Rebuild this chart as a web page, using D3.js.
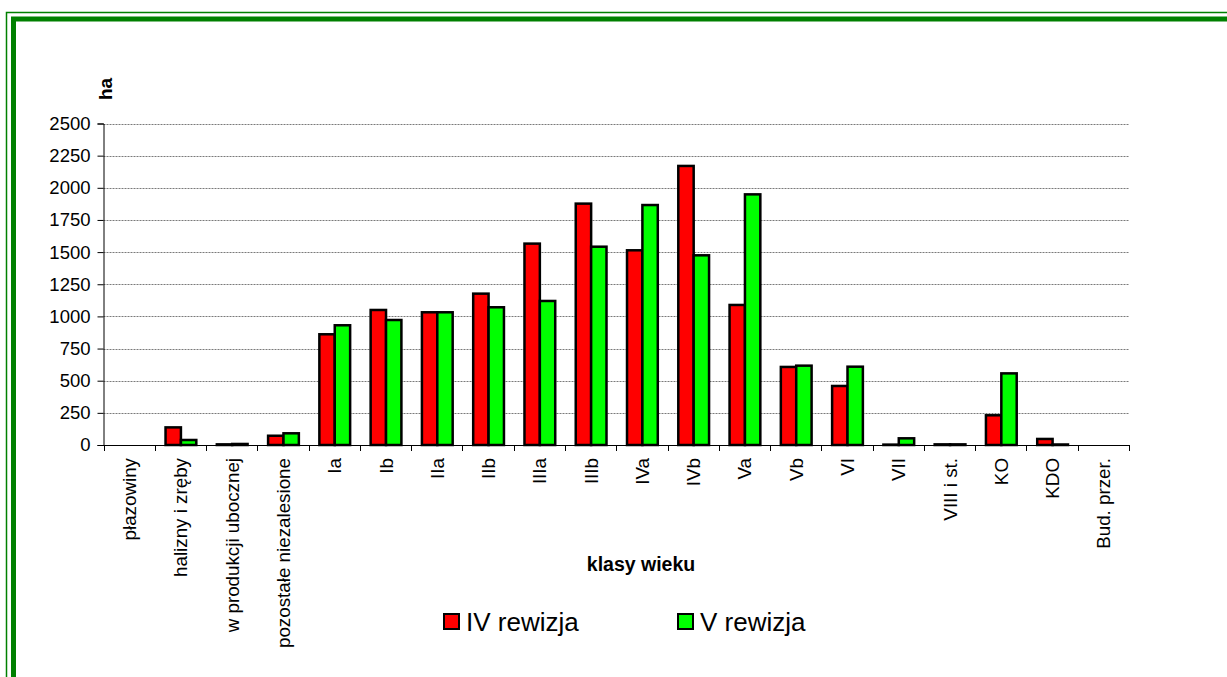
<!DOCTYPE html>
<html>
<head>
<meta charset="utf-8">
<script src="https://cdn.jsdelivr.net/npm/d3@7"></script>
<style>
  body { margin: 0; background: #fff; }
  svg { display: block; font-family: Arial, "Liberation Sans", sans-serif; }
</style>
</head>
<body>
<svg id="chart" width="1227" height="677"></svg>
<script>
// age classes (klasy wieku)
var categories = ['płazowiny', 'halizny i zręby', 'w produkcji ubocznej', 'pozostałe niezalesione',
  'Ia', 'Ib', 'IIa', 'IIb', 'IIIa', 'IIIb', 'IVa', 'IVb', 'Va', 'Vb', 'VI', 'VII',
  'VIII i st.', 'KO', 'KDO', 'Bud. przer.'];

var seriesNames = ['IV rewizja', 'V rewizja'];

var rev4 = [0, 137, 5, 72, 861, 1050, 1032, 1177, 1566, 1877, 1514, 2170, 1089, 607, 459, 3, 5, 231, 47, 0];
var rev5 = [0, 39, 8, 91, 931, 972, 1032, 1071, 1120, 1542, 1866, 1475, 1949, 617, 609, 52, 5, 557, 4, 0];

var yTicks = [0, 250, 500, 750, 1000, 1250, 1500, 1750, 2000, 2250, 2500];

var colors = ['#ff0000', '#00ff00'];

var svg = d3.select('#chart');

// double green frame
svg.append('rect')
    .attr('x', 6.5).attr('y', 12.5)
    .attr('width', 1300).attr('height', 800)
    .attr('fill', 'none').attr('stroke', '#008000').attr('stroke-width', 1.5);
svg.append('rect')
    .attr('x', 13.5).attr('y', 19)
    .attr('width', 1300).attr('height', 800)
    .attr('fill', 'none').attr('stroke', '#008000').attr('stroke-width', 5);

var plotLeft = 103.5, plotRight = 1129, plotTop = 123.5, plotBottom = 445;

var x0 = d3.scaleBand()
    .domain(categories)
    .range([plotLeft, plotRight])
    .padding(0);

var x1 = d3.scaleBand()
    .domain(seriesNames)
    .range([x0.bandwidth() * 0.21, x0.bandwidth() * 0.81]);

var y = d3.scaleLinear()
    .domain([0, 2500])
    .range([plotBottom, plotTop]);

// gridlines
svg.append('g')
    .selectAll('line')
    .data(yTicks.slice(1))
    .join('line')
    .attr('x1', plotLeft).attr('x2', plotRight)
    .attr('y1', function(d) { return Math.round(y(d)) + 0.5; })
    .attr('y2', function(d) { return Math.round(y(d)) + 0.5; })
    .attr('stroke', '#7a7a7a')
    .attr('stroke-width', 1)
    .attr('stroke-dasharray', '2,1');

// y axis
var yAxis = svg.append('g')
    .attr('transform', 'translate(' + plotLeft + ',0)')
    .call(d3.axisLeft(y).tickValues(yTicks).tickFormat(d3.format('d')).tickSize(6).tickPadding(7));
yAxis.select('.domain').attr('stroke', '#000');
yAxis.selectAll('.tick line').attr('stroke', '#000');
yAxis.selectAll('.tick text')
    .attr('font-size', 18.5)
    .attr('font-family', 'Arial, "Liberation Sans", sans-serif')
    .attr('fill', '#000');

// bars
var rows = categories.map(function(c, i) {
  return { cat: c, values: [
    { name: seriesNames[0], value: rev4[i] },
    { name: seriesNames[1], value: rev5[i] }
  ] };
});

var groups = svg.append('g')
    .selectAll('g')
    .data(rows)
    .join('g')
    .attr('transform', function(d) { return 'translate(' + x0(d.cat) + ',0)'; });

groups.selectAll('rect')
    .data(function(d) { return d.values; })
    .join('rect')
    .attr('x', function(d) { return x1(d.name); })
    .attr('width', x1.bandwidth())
    .attr('y', function(d) { return y(d.value); })
    .attr('height', function(d) { return plotBottom - y(d.value); })
    .attr('fill', function(d, i) { return colors[i]; })
    .attr('stroke', '#000')
    .attr('stroke-width', function(d) { return d.value > 0 ? 2.5 : 0; });

// x axis line and boundary ticks
svg.append('line')
    .attr('x1', plotLeft).attr('x2', plotRight)
    .attr('y1', plotBottom + 0.5).attr('y2', plotBottom + 0.5)
    .attr('stroke', '#000');

var bounds = categories.map(function(c) { return x0(c); }).concat([plotRight]);
svg.append('g')
    .selectAll('line')
    .data(bounds)
    .join('line')
    .attr('x1', function(d) { return Math.round(d) + 0.5; })
    .attr('x2', function(d) { return Math.round(d) + 0.5; })
    .attr('y1', plotBottom).attr('y2', plotBottom + 6)
    .attr('stroke', '#000');

// category labels
svg.append('g')
    .selectAll('text')
    .data(categories)
    .join('text')
    .attr('transform', function(d) {
      return 'translate(' + (x0(d) + x0.bandwidth() / 2 + 7) + ',' + 458 + ') rotate(-90)';
    })
    .attr('text-anchor', 'end')
    .attr('font-size', 18.8)
    .attr('fill', '#000')
    .text(function(d) { return d; });

// axis titles
svg.append('text')
    .attr('transform', 'translate(112,89) rotate(-90)')
    .attr('text-anchor', 'middle')
    .attr('font-size', 19)
    .attr('font-weight', 'bold')
    .text('ha');

svg.append('text')
    .attr('x', 641).attr('y', 571)
    .attr('text-anchor', 'middle')
    .attr('font-size', 19.5)
    .attr('font-weight', 'bold')
    .text('klasy wieku');

// legend
var legendX = [443, 677];
var legend = svg.append('g')
    .selectAll('g')
    .data(seriesNames)
    .join('g')
    .attr('transform', function(d, i) { return 'translate(' + legendX[i] + ',613)'; });

legend.append('rect')
    .attr('x', 1).attr('y', 1)
    .attr('width', 15).attr('height', 15)
    .attr('fill', function(d, i) { return colors[i]; })
    .attr('stroke', '#000')
    .attr('stroke-width', 2);

legend.append('text')
    .attr('x', 23).attr('y', 18)
    .attr('font-size', 26)
    .attr('fill', '#000')
    .text(function(d) { return d; });
</script>
</body>
</html>
